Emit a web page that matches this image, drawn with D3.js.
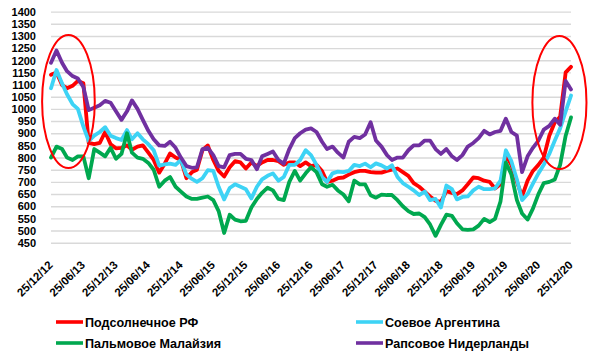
<!DOCTYPE html>
<html><head><meta charset="utf-8">
<script src="https://cdn.jsdelivr.net/npm/d3@7"></script>
<style>body{margin:0;background:#fff}svg{display:block}</style>
</head><body>
<svg id="c" width="600" height="354"></svg>
<script>
// ---- data ----
const firstDate = "2012-12-25"; // monthly observations start here
const xTickLabels = ["25/12/12","25/06/13","25/12/13","25/06/14","25/12/14","25/06/15","25/12/15","25/06/16","25/12/16","25/06/17","25/12/17","25/06/18","25/12/18","25/06/19","25/12/19","25/06/20","25/12/20"];
const yTicks = [450,500,550,600,650,700,750,800,850,900,950,1000,1050,1100,1150,1200,1250,1300,1350,1400];
const seriesNames = ["Подсолнечное РФ","Соевое Аргентина","Пальмовое Малайзия","Рапсовое Нидерланды"];
const seriesColors = ["#ff0000","#3dd3f5","#00a84f","#7030a0"];

const sunflowerRF = [1140,1150,1098,1085,1095,1115,1105,860,855,860,
 905,855,838,840,850,832,845,850,820,790,
 738,775,817,800,790,715,740,750,830,850,
 790,745,722,760,785,780,755,780,765,780,
 790,790,785,770,780,780,765,780,765,770,
 745,700,705,715,718,730,740,745,745,740,
 738,738,745,750,755,740,725,695,680,660,
 640,622,618,662,655,650,665,690,718,715,
 705,700,673,690,810,770,700,640,705,745,
 770,800,890,945,968,1150,1173];
const soyArgentina = [1085,1160,1105,1060,1020,1000,927,868,890,905,
 925,890,880,872,913,875,900,875,855,830,
 767,772,775,770,790,730,712,700,715,748,
 745,680,628,675,690,680,670,632,680,710,
 725,735,705,720,770,770,790,830,810,770,
 720,700,735,742,740,745,770,765,775,760,
 776,768,755,768,720,695,680,665,646,660,
 625,630,595,685,670,628,638,640,665,680,
 670,670,673,705,830,785,710,625,650,693,
 735,770,815,870,920,990,1055];
const palmMalaysia = [800,845,835,800,790,805,805,715,835,820,
 805,840,795,815,900,820,800,795,778,750,
 680,705,720,680,660,640,630,630,635,640,
 625,580,490,565,545,538,540,595,630,655,
 676,665,630,625,700,745,705,735,760,740,
 690,680,688,665,648,620,705,690,690,645,
 635,648,646,646,625,600,580,568,570,555,
 525,478,523,565,560,530,505,503,505,520,
 548,535,548,620,780,730,625,570,545,590,
 650,695,700,710,770,890,965];
const rapeNetherlands = [1190,1240,1190,1155,1135,1125,1090,995,1005,1015,
 1033,1025,990,955,990,1035,1000,955,910,875,
 850,848,865,840,800,765,758,760,835,840,
 810,765,760,810,815,815,795,790,752,805,
 815,825,790,775,835,880,900,915,920,905,
 865,835,845,820,800,865,885,880,895,945,
 870,845,810,790,800,800,830,850,850,870,
 870,835,815,835,805,790,810,845,860,880,
 910,895,905,910,960,905,890,740,805,840,
 870,915,930,960,935,1115,1080];

// highlighted periods (red ellipses): date span and value span
const highlights = [
  {from:"2012-11-05", to:"2013-08-28", lo:757, hi:1304},
  {from:"2020-05-22", to:"2021-03-22", lo:753, hi:1300}
];

// ---- chart ----
const svg = d3.select("#c");
const L = 51, R = 571, T = 11.6, B = 242.7;
const parseTick = d3.timeParse("%d/%m/%y");
const parseISO = d3.timeParse("%Y-%m-%d");
const start = parseISO(firstDate);
const dates = sunflowerRF.map((_, i) => d3.timeMonth.offset(start, i));

const x = d3.scaleTime()
  .domain([parseTick(xTickLabels[0]), parseTick(xTickLabels[xTickLabels.length - 1])])
  .range([L, R]);
const y = d3.scaleLinear().domain([450, 1400]).range([B, T]);

const font = "'Liberation Sans', Arial, sans-serif";

// y axis with gridlines
const yAxis = d3.axisLeft(y).tickValues(yTicks).tickSize(-(R - L)).tickPadding(15).tickFormat(d3.format("d"));
const gy = svg.append("g").attr("transform", `translate(${L},0)`).call(yAxis);
gy.select(".domain").remove();
gy.selectAll(".tick line").attr("stroke", "#d9d9d9").attr("stroke-width", 1.4);
gy.selectAll(".tick text").attr("font-family", font).attr("font-weight", "bold")
  .attr("font-size", 11).attr("fill", "#000").attr("dy", "0.34em");

// x axis labels, rotated
const xAxis = d3.axisBottom(x).tickValues(xTickLabels.map(parseTick)).tickSize(0)
  .tickFormat((d, i) => xTickLabels[i]);
const gx = svg.append("g").attr("transform", `translate(0,${B})`).call(xAxis);
gx.select(".domain").remove();
gx.selectAll(".tick text")
  .attr("font-family", font).attr("font-weight", "bold").attr("font-size", 11.5).attr("fill", "#000")
  .attr("text-anchor", "end").attr("dy", null).attr("y", 0)
  .attr("transform", "translate(2,23) rotate(-45)");

// series
const series = [sunflowerRF, soyArgentina, palmMalaysia, rapeNetherlands];
const line = d3.line()
  .defined(d => d[1] != null)
  .x(d => x(d[0])).y(d => y(d[1]));
series.forEach((vals, k) => {
  svg.append("path")
    .datum(vals.map((v, i) => [dates[i], v]))
    .attr("fill", "none")
    .attr("stroke", seriesColors[k])
    .attr("stroke-width", 3.8)
    .attr("stroke-linejoin", "round")
    .attr("stroke-linecap", "round")
    .attr("d", line);
});

// ellipses
highlights.forEach(h => {
  const x0 = x(parseISO(h.from)), x1 = x(parseISO(h.to));
  const y0 = y(h.hi), y1 = y(h.lo);
  svg.append("ellipse")
    .attr("cx", (x0 + x1) / 2).attr("cy", (y0 + y1) / 2)
    .attr("rx", (x1 - x0) / 2).attr("ry", (y1 - y0) / 2)
    .attr("fill", "none").attr("stroke", "#ff0000").attr("stroke-width", 2);
});

// legend
const legendPos = [[56, 322], [356, 322], [56, 343], [356, 343]];
const lg = svg.append("g");
seriesNames.forEach((name, k) => {
  const [lx, ly] = legendPos[k];
  lg.append("line").attr("x1", lx).attr("x2", lx + 27).attr("y1", ly).attr("y2", ly)
    .attr("stroke", seriesColors[k]).attr("stroke-width", 3.6);
  lg.append("text").attr("x", lx + 29).attr("y", ly).attr("dy", "0.36em")
    .attr("font-family", font).attr("font-weight", "bold").attr("font-size", 12.6)
    .attr("fill", "#000").text(name);
});
</script>
</body></html>
